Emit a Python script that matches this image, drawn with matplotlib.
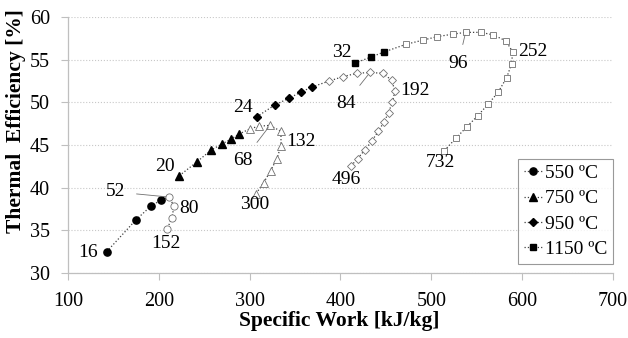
import matplotlib
matplotlib.use("Agg")
import matplotlib.pyplot as plt
from matplotlib.lines import Line2D

plt.rcParams['font.family'] = ['Liberation Serif', 'DejaVu Serif']

# ---- data ----
s550_x = [142.6, 174.5, 191.4, 202.4, 211.2, 216.7, 214.5, 209.0]
s550_y = [32.5, 36.2, 37.85, 38.55, 38.9, 37.85, 36.5, 35.1]
s550_filled = 4

s750_x = [222.5, 241.7, 257.4, 269.2, 279.5, 288.6,
          300.4, 310.0, 322.4, 334.5, 334.5, 330.0, 323.2, 315.5, 307.0]
s750_y = [41.4, 43.0, 44.4, 45.1, 45.7, 46.3,
          46.9, 47.2, 47.3, 46.6, 44.9, 43.4, 42.0, 40.6, 39.3]
s750_filled = 6

s950_x = [307.7, 327.9, 343.6, 356.5, 368.6,
          387.6, 402.4, 417.8, 432.5, 446.5, 456.4, 460.0, 457.0, 453.0,
          447.9, 441.6, 434.7, 426.6, 418.9, 411.2]
s950_y = [48.3, 49.7, 50.5, 51.2, 51.8,
          52.5, 53.0, 53.4, 53.5, 53.4, 52.6, 51.3, 50.0, 48.8,
          47.7, 46.6, 45.5, 44.4, 43.4, 42.5]
s950_filled = 5

s1150_x = [416.0, 433.3, 448.0,
           472.1, 491.2, 506.6, 524.2, 537.8, 554.7, 568.3, 582.2, 589.6,
           588.4, 583.0, 573.7, 562.7, 550.9, 538.8, 527.2, 514.0]
s1150_y = [54.6, 55.3, 55.9,
           56.8, 57.3, 57.7, 58.0, 58.2, 58.2, 57.9, 57.2, 55.9,
           54.5, 52.9, 51.2, 49.8, 48.4, 47.1, 45.8, 44.3]
s1150_filled = 3

series_names = ['550 ºC', '750 ºC', '950 ºC', '1150 ºC']
markers = ['o', '^', 'D', 's']

# pressure-ratio labels: (text, series index, point index, text x, text y, leader)
pr_labels = [
    ('16', 0, 0, 133.0, 32.4, False),
    ('52', 0, 4, 152.5, 39.5, True),
    ('80', 0, 5, 222.0, 37.6, False),
    ('152', 0, 7, 207.5, 33.4, False),
    ('20', 1, 0, 218.0, 42.5, False),
    ('68', 1, 8, 293.0, 43.2, True),
    ('132', 1, 9, 340.0, 45.4, False),
    ('300', 1, 14, 306.0, 38.0, False),
    ('24', 2, 0, 292.3, 49.4, False),
    ('84', 2, 8, 405.7, 49.9, True),
    ('192', 2, 11, 465.5, 51.4, False),
    ('496', 2, 19, 406.8, 41.0, False),
    ('32', 3, 0, 401.3, 55.8, False),
    ('96', 3, 7, 529.7, 54.5, True),
    ('252', 3, 11, 595.5, 55.9, False),
    ('732', 3, 19, 510.3, 42.9, False),
]

xs = [s550_x, s750_x, s950_x, s1150_x]
ys = [s550_y, s750_y, s950_y, s1150_y]
nfill = [s550_filled, s750_filled, s950_filled, s1150_filled]

fig = plt.figure(figsize=(6.28, 3.38), dpi=100)
ax = fig.add_axes([0.1083, 0.1923, 0.8677, 0.7574])

msz = [5.2, 5.2, 4.2, 5.0]
for i in range(4):
    x, y, n = xs[i], ys[i], nfill[i]
    ax.plot(x, y, linestyle=':', color='#404040', linewidth=0.9, zorder=2)
    ax.plot(x[:n], y[:n], linestyle='none', marker=markers[i], markersize=msz[i],
            color='black', zorder=3)
    ax.plot(x[n:], y[n:], linestyle='none', marker=markers[i],
            markersize=msz[i], markerfacecolor='white', markeredgecolor='#707070',
            markeredgewidth=0.6, zorder=3)

handles = [Line2D([], [], linestyle=':', color='#404040', linewidth=0.9,
                  marker=markers[i], markersize=msz[i], markerfacecolor='black',
                  markeredgecolor='black') for i in range(4)]

for txt, si, pi, tx, ty, leader in pr_labels:
    px, py = xs[si][pi], ys[si][pi]
    if leader:
        ax.annotate(txt, xy=(px, py), xytext=(tx, ty), fontsize=14,
                    ha='center', va='center',
                    arrowprops=dict(arrowstyle='-', color='#707070', lw=0.6,
                                    shrinkA=6, shrinkB=2))
    else:
        ha = 'center'
        if txt in ('16', '20'):
            ha = 'right'
        elif txt in ('80', '132', '192', '252'):
            ha = 'left'
        ax.text(tx, ty, txt, fontsize=14, ha=ha, va='center')

ax.set_xlim(100, 700)
ax.set_ylim(30, 60)
ax.set_xticks(range(100, 701, 100))
ax.set_yticks(range(30, 61, 5))
ax.yaxis.grid(True, linestyle=':', color='#c8c8c8', linewidth=0.8)
ax.set_axisbelow(True)
for s in ('top', 'right'):
    ax.spines[s].set_visible(False)
for s in ('left', 'bottom'):
    ax.spines[s].set_color('#bfbfbf')
    ax.spines[s].set_linewidth(0.9)
ax.tick_params(axis='x', length=5, color='#bfbfbf', pad=9, labelsize=14.5)
ax.tick_params(axis='y', length=5, color='#bfbfbf', pad=8, labelsize=14.5)

leg = ax.legend(handles, series_names, loc='lower right',
                bbox_to_anchor=(1.0, 0.035), borderaxespad=0.0, fontsize=14,
                frameon=True, fancybox=False, edgecolor='#808080',
                handlelength=0.9, handletextpad=0.15, borderpad=0.3,
                labelspacing=0.4)
leg.get_frame().set_linewidth(0.8)

fig.text(0.541, 0.05, 'Specific Work [kJ/kg]', fontsize=15.5, fontweight='bold',
         ha='center', va='center')
fig.text(0.026, 0.642, 'Thermal  Efficiency [%]', fontsize=15.5, fontweight='bold',
         ha='center', va='center', rotation=90)

fig.savefig('out.png', dpi=100)
